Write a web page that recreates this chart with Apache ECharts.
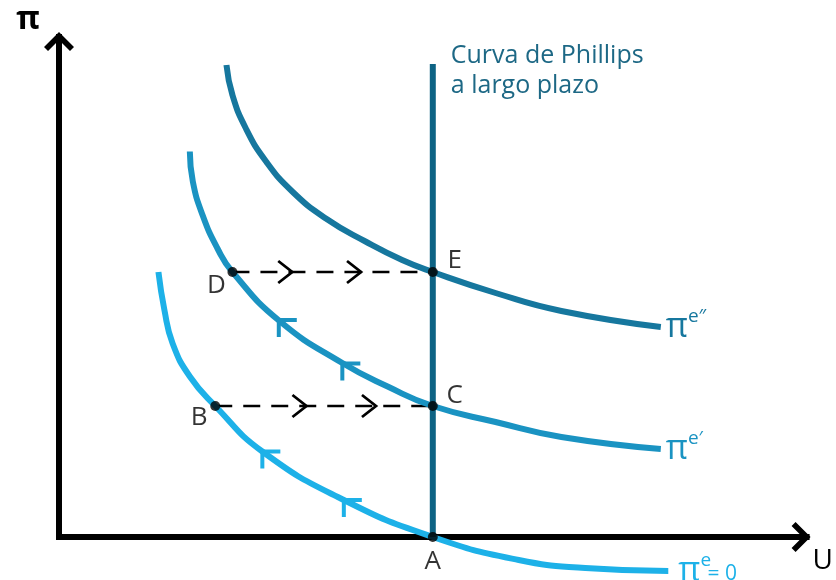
<!DOCTYPE html>
<html>
<head>
<meta charset="utf-8">
<script src="https://cdn.jsdelivr.net/npm/echarts@6.0.0/dist/echarts.min.js"></script>
<style>
html, body { margin: 0; padding: 0; background: #fff; }
#chart { width: 836px; height: 580px; }
</style>
</head>
<body>
<div id="chart"></div>
<script>
// 短期菲利普斯曲线 (U, π)
var curveE2 = [[2.24, 9.44], [2.32, 8.84], [2.5, 8.17], [2.77, 7.51], [3.12, 6.91], [3.57, 6.37], [4.1, 5.91], [4.59, 5.54], [5, 5.3], [5.84, 4.88], [6.72, 4.52], [8.05, 4.2]];
var curveE1 = [[1.75, 7.71], [1.79, 7.11], [1.92, 6.44], [2.12, 5.77], [2.32, 5.3], [2.95, 4.32], [3.79, 3.48], [4.41, 3.0], [5, 2.62], [5.84, 2.3], [6.72, 2.0], [8.05, 1.76]];
var curveE0 = [[1.33, 5.3], [1.41, 4.54], [1.52, 3.87], [1.75, 3.21], [2.09, 2.62], [2.72, 1.71], [3.81, 0.74], [5, 0], [6.15, -0.46], [7.04, -0.62], [8.15, -0.68]];
// 长期菲利普斯曲线
var longRun = [[5, 0], [5, 9.46]];
// 虚线
var dashDE = [[2.32, 5.3], [5, 5.3]];
var dashBC = [[2.09, 2.62], [5, 2.62]];
// 点
var points = [['D', 2.32, 5.3], ['E', 5, 5.3], ['B', 2.09, 2.62], ['C', 5, 2.62], ['A', 5, 0]];
// 箭头位置
var dashArrows = [[3.12, 5.3], [4.04, 5.3], [3.31, 2.62], [4.24, 2.62]];
var arrowsE1 = [[2.94, 4.34], [3.79, 3.47]];
var arrowsE0 = [[2.72, 1.71], [3.81, 0.74]];

var colDark = '#16779e';
var colMid = '#1a93c2';
var colLight = '#1db1e8';
var colLong = '#0d6384';
var font = 'Open Sans';

// 点标签偏移
var labelOffset = { D: [-16, 14], E: [22, -11], B: [-16, 12], C: [22, -10], A: [0, 25] };

function chevron(arms, color, width) {
  return function (params, api) {
    var p = api.coord([api.value(0), api.value(1)]);
    return {
      type: 'polyline',
      shape: { points: [[p[0] + arms[0][0], p[1] + arms[0][1]], p, [p[0] + arms[1][0], p[1] + arms[1][1]]] },
      style: { stroke: color, lineWidth: width, fill: 'none' }
    };
  };
}

function curve(name, data, color, label) {
  return {
    name: name,
    type: 'line',
    data: data,
    smooth: 0.5,
    showSymbol: false,
    symbol: 'none',
    clip: false,
    lineStyle: { color: color, width: 6 },
    endLabel: label,
    z: 3
  };
}

function piLabel(color, sup, tail) {
  return {
    show: true,
    distance: tail ? 10 : 5,
    formatter: '{p|π}{e|' + sup + '}' + (tail ? '{z|' + tail + '}' : ''),
    rich: {
      p: { fontFamily: font, fontSize: 34, color: color, lineHeight: 40 },
      e: { fontFamily: font, fontSize: 19, color: color, verticalAlign: 'top', lineHeight: 20, width: tail ? 7 : null },
      z: { fontFamily: font, fontSize: 21, color: color, padding: [6, 0, 0, 0] }
    }
  };
}

var arrowPath = 'path://M0,15 L15,0 L30,15 L26,19 L15,8 L4,19 Z';

var chart = echarts.init(document.getElementById('chart'));
chart.setOption({
  animation: false,
  backgroundColor: '#fff',
  grid: { left: 59, right: 27, top: 37, bottom: 43 },
  xAxis: {
    type: 'value', min: 0, max: 10,
    name: 'U', nameLocation: 'end', nameGap: 6,
    nameTextStyle: { fontFamily: font, fontSize: 28, color: '#000', verticalAlign: 'top', padding: [10, 0, 0, 0] },
    axisLine: { onZero: false, lineStyle: { color: '#000', width: 6, cap: 'square' }, symbol: ['none', arrowPath], symbolSize: [30, 19], symbolOffset: [0, -5.5] },
    axisTick: { show: false }, axisLabel: { show: false }, splitLine: { show: false }
  },
  yAxis: {
    type: 'value', min: 0, max: 10,
    name: 'π', nameLocation: 'end', nameGap: 1,
    nameTextStyle: { fontFamily: font, fontSize: 32, fontWeight: 'bold', color: '#000', align: 'right', padding: [0, 19, 0, 0] },
    axisLine: { lineStyle: { color: '#000', width: 6, cap: 'square' }, symbol: ['none', arrowPath], symbolSize: [30, 19], symbolOffset: [0, -4.5] },
    axisTick: { show: false }, axisLabel: { show: false }, splitLine: { show: false }
  },
  series: [
    curve('πe″', curveE2, colDark, piLabel(colDark, 'e″')),
    curve('πe′', curveE1, colMid, piLabel(colMid, 'e′')),
    curve('πe=0', curveE0, colLight, piLabel(colLight, 'e', '= 0')),
    {
      name: 'largo plazo', type: 'line', data: longRun, showSymbol: false, symbol: 'none', clip: false,
      lineStyle: { color: colLong, width: 6 }, z: 4,
      endLabel: {
        show: true, formatter: 'Curva de Phillips\na largo plazo', fontFamily: font, fontSize: 25,
        lineHeight: 30, color: '#1d6885', align: 'left', offset: [10, 7]
      }
    },
    {
      type: 'line', data: dashDE, showSymbol: false, symbol: 'none', z: 2,
      lineStyle: { color: '#000', width: 2.5, type: [17, 11] }
    },
    {
      type: 'line', data: dashBC, showSymbol: false, symbol: 'none', z: 2,
      lineStyle: { color: '#000', width: 2.5, type: [17, 11] }
    },
    { type: 'custom', data: dashArrows, renderItem: chevron([[-14, -11], [-14, 11]], '#000', 2.8), z: 5 },
    { type: 'custom', data: arrowsE1, renderItem: chevron([[18, 0], [0, 17]], colMid, 4), z: 5 },
    { type: 'custom', data: arrowsE0, renderItem: chevron([[18, 0], [0, 17]], colLight, 4), z: 5 },
    {
      type: 'scatter', symbolSize: 10, z: 10,
      itemStyle: { color: '#000' },
      data: points.map(function (p) {
        return {
          name: p[0], value: [p[1], p[2]],
          label: { show: true, position: 'inside', offset: labelOffset[p[0]], formatter: '{b}', fontFamily: font, fontSize: 26, color: '#000' }
        };
      })
    }
  ]
});
</script>
</body>
</html>
